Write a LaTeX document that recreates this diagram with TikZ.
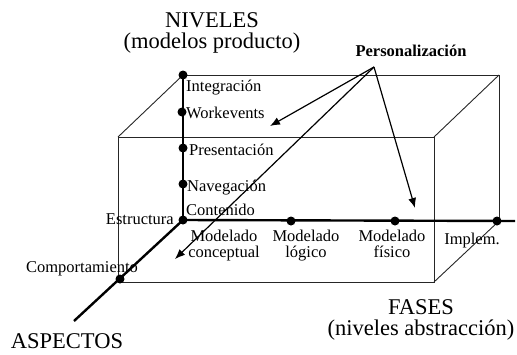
\documentclass[tikz,border=0pt]{standalone}
\usepackage{fontspec}
\setmainfont{Liberation Serif}
\usetikzlibrary{arrows.meta}
\tikzset{
  dot/.style={circle,fill=black,inner sep=0pt,minimum size=9pt},
  lbl/.style={inner sep=0pt,font=\fontsize{16.5}{15.5}\selectfont},
  big/.style={inner sep=0pt,align=center,font=\fontsize{22.5}{21}\selectfont},
  axis/.style={line width=2.4pt},
  edge/.style={line width=0.9pt,black!85},
  pers/.style={line width=1.2pt,-{Latex[length=10pt,width=8pt]}}
}
\begin{document}
\begin{tikzpicture}[x=1pt,y=-1pt]
    \useasboundingbox (0,0) rectangle (517,354);
    % corners of the box
    \coordinate (bt1) at (183,75);
    \coordinate (bt2) at (499,75);
    \coordinate (bb2) at (499,221);
    \coordinate (ft1) at (118,137);
    \coordinate (ft2) at (434,137);
    \coordinate (fb1) at (118,282);
    \coordinate (fb2) at (434,282);
    \draw[edge] (bt1) -- (bt2) -- (bb2);
    \draw[edge] (ft1) rectangle (fb2);
    \draw[edge] (bt1) -- (ft1);
    \draw[edge] (bt2) -- (ft2);
    \draw[edge] (bb2) -- (fb2);
    % axes
    \node[dot] (integ) at (183,75) {};
    \node[dot] (workev) at (182,112) {};
    \node[dot] (present) at (183,148) {};
    \node[dot] (naveg) at (183,184) {};
    \node[dot] (estruct) at (183,220) {};
    \node[dot] (logico) at (291,221) {};
    \node[dot] (fisico) at (395,221) {};
    \node[dot] (implem) at (497,221) {};
    \node[dot] (comport) at (120,279) {};
    \coordinate (hend) at (515,221);
    \coordinate (aend) at (74,321);
    \draw[axis] (integ.center) -- (estruct.center);
    \draw[axis] (estruct.center) -- (hend);
    \draw[axis] (estruct.center) -- (aend);
    % labels on the axes
    \node[lbl,anchor=base west] (tinteg) at (186,91) {Integración};
    \node[lbl,anchor=base west] (tworkev) at (186,118) {Workevents};
    \node[lbl,anchor=base west] (tpresent) at (189,155) {Presentación};
    \node[lbl,anchor=base west] (tnaveg) at (187,191) {Navegación};
    \node[lbl,anchor=base west] (tcont) at (186,215) {Contenido};
    \node[lbl,anchor=base east] (testruct) at (174,224) {Estructura};
    \node[lbl,anchor=base] (tcomport) at (82,272) {Comportamiento};
    \node[lbl,align=center,anchor=north] (tconc) at (224,230) {Modelado\\conceptual};
    \node[lbl,align=center,anchor=north] (tlog) at (306,230) {Modelado\\lógico};
    \node[lbl,align=center,anchor=north] (tfis) at (392,230) {Modelado\\físico};
    \node[lbl,anchor=base] (timpl) at (472,244) {Implem.};
    % titles
    \node[big,anchor=north] (niveles) at (212,12) {NIVELES\\(modelos producto)};
    \node[big,anchor=north] (fases) at (421,299) {FASES\\(niveles abstracción)};
    \node[big,anchor=north] (aspectos) at (67,333) {ASPECTOS};
    % personalizacion
    \node[lbl,anchor=base,font=\fontsize{16.5}{14}\selectfont\bfseries] (pers) at (411,56) {Personalización};
    \coordinate (apex) at (374,67);
    \coordinate (p1) at (270,126);
    \coordinate (p2) at (175,259);
    \coordinate (p3) at (415,208);
    \draw[pers] (apex) -- (p1);
    \draw[pers] (apex) -- (p2);
    \draw[pers] (apex) -- (p3);
\end{tikzpicture}
\end{document}
